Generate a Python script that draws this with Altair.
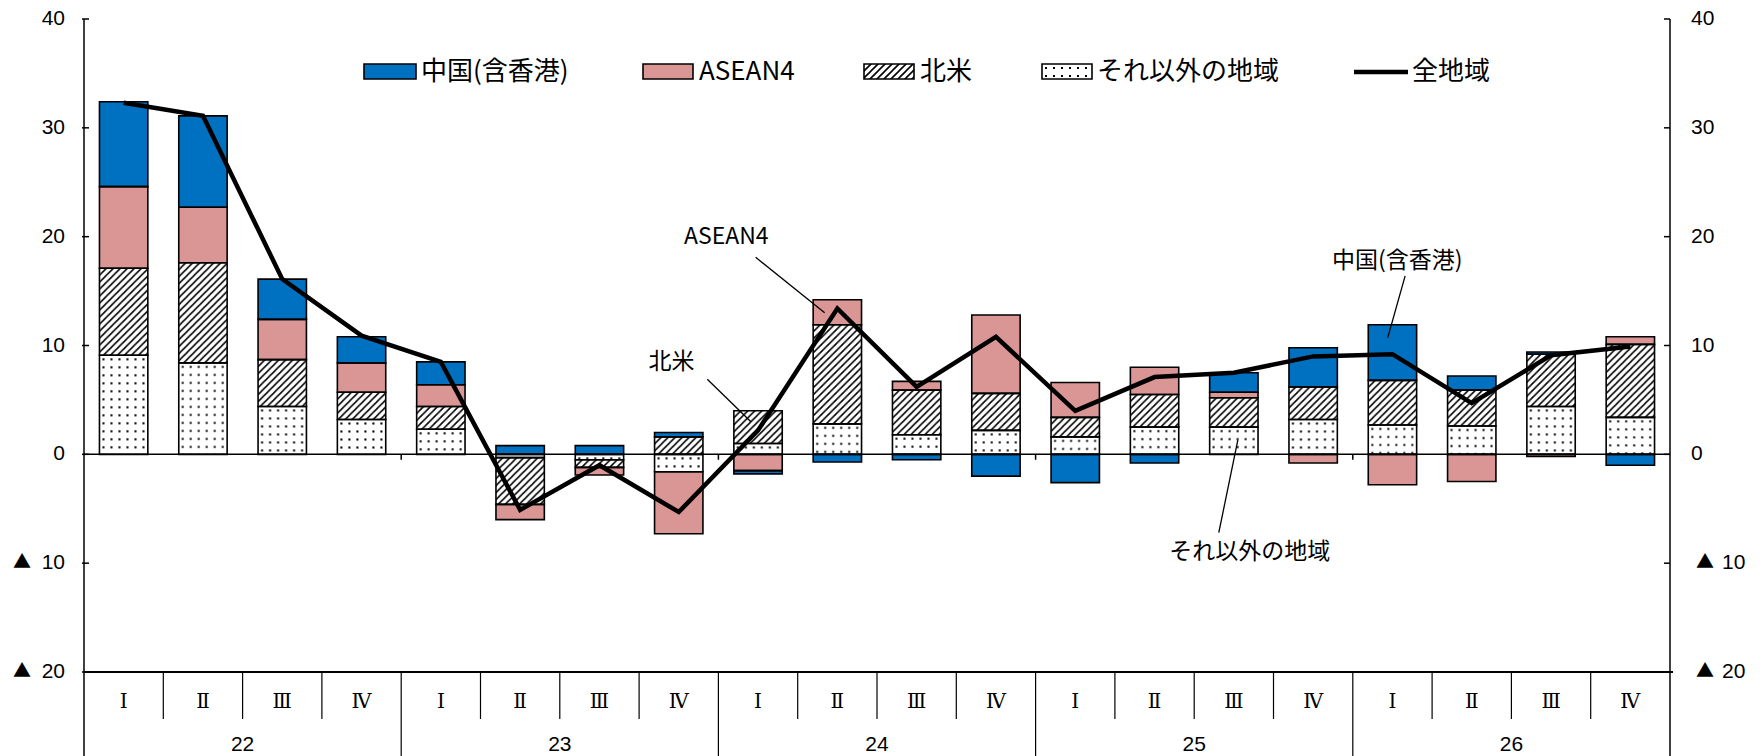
import base64
import altair as alt
import pandas as pd

# ---- data -------------------------------------------------------------
years = ["22", "23", "24", "25", "26"]
quarters = ["Ⅰ", "Ⅱ", "Ⅲ", "Ⅳ"]
series = ["それ以外の地域", "北米", "ASEAN4", "中国(含香港)"]

other = [9.1, 8.4, 4.4, 3.2, 2.3, -0.3, -0.5, -1.6, 1.0, 2.8, 1.8, 2.2, 1.6, 2.5, 2.5, 3.2, 2.7, 2.6, 4.4, 3.4]
north_america = [8.0, 9.2, 4.3, 2.5, 2.1, -4.3, -0.7, 1.6, 3.0, 9.1, 4.1, 3.4, 1.8, 3.0, 2.7, 3.0, 4.1, 3.3, 4.8, 6.7]
asean = [7.5, 5.1, 3.7, 2.7, 2.0, -1.4, -0.7, -5.7, -1.5, 2.3, 0.8, 7.2, 3.2, 2.5, 0.5, -0.8, -2.8, -2.5, -0.2, 0.7]
china = [7.8, 8.4, 3.7, 2.4, 2.1, 0.8, 0.8, 0.4, -0.3, -0.7, -0.5, -2.0, -2.6, -0.8, 1.8, 3.6, 5.1, 1.3, 0.2, -1.0]
total = [32.3, 31.1, 16.1, 10.9, 8.5, -5.1, -1.0, -5.3, 2.2, 13.4, 6.2, 10.8, 4.0, 7.1, 7.5, 9.0, 9.2, 4.7, 9.1, 9.9]

y_ticks = [-20, -10, 0, 10, 20, 30, 40]

# ---- layout / style ---------------------------------------------------
W, H = 1586, 653
HALF = 0.305            # half bar width in category units
JP = "Noto Sans CJK JP"
NUM = "Liberation Sans"
BLUE, PINK = "#0070C0", "#DA9694"

def svg_uri(body):
    svg = ("<svg xmlns='http://www.w3.org/2000/svg' width='100%' height='100%'>"
           + body + "</svg>")
    return "data:image/svg+xml;base64," + base64.b64encode(svg.encode()).decode()

HATCH = svg_uri(
    "<defs><pattern id='p' width='7' height='7' patternUnits='userSpaceOnUse'>"
    "<path d='M0,7 L7,0 M-1,1 L1,-1 M6,8 L8,6' stroke='black' stroke-width='1.6'/>"
    "</pattern></defs><rect width='100%' height='100%' fill='url(#p)'/>")
DOTS = svg_uri(
    "<defs><pattern id='d' width='8' height='8' patternUnits='userSpaceOnUse'>"
    "<rect x='3' y='3' width='2' height='2' fill='black'/>"
    "</pattern></defs><rect width='100%' height='100%' fill='url(#d)'/>")

# ---- tables -----------------------------------------------------------
n = len(total)
rows = []
for i in range(n):
    pos = neg = 0.0
    for name, vals in zip(series, [other, north_america, asean, china]):
        v = vals[i]
        if v >= 0:
            y0, y1 = pos, pos + v
            pos += v
        else:
            y0, y1 = neg, neg + v
            neg += v
        rows.append(dict(i=i, series=name, value=v, y0=y0, y1=y1,
                         x0=i - HALF, x1=i + HALF))
seg = pd.DataFrame(rows)

line_df = pd.DataFrame({"i": range(n), "total": total})
cats = pd.DataFrame({"i": range(n), "q": [quarters[k % 4] for k in range(n)]})
year_df = pd.DataFrame({"c": [4 * k + 1.5 for k in range(len(years))], "year": years})
qsep = pd.DataFrame({"b": [k + 0.5 for k in range(n - 1) if (k + 1) % 4]})
ysep = pd.DataFrame({"b": [k + 0.5 for k in range(n - 1) if (k + 1) % 4 == 0]})
ticks = pd.DataFrame({"v": y_ticks, "num": [str(abs(t)) for t in y_ticks],
                      "neg": [t < 0 for t in y_ticks]})
one = pd.DataFrame({"k": [0]})

notes = pd.DataFrame({
    "label": ["ASEAN4", "北米", "中国(含香港)", "それ以外の地域"],
    "x": [7.60, 6.91, 16.06, 14.20],
    "y": [20.0, 8.5, 17.8, -9.0],
})
leaders = pd.DataFrame({
    "x": [7.97, 7.36, 16.16, 13.81], "y": [18.1, 6.9, 16.4, -7.2],
    "x2": [8.84, 7.91, 15.94, 14.05], "y2": [13.0, 3.0, 10.7, 1.3],
})

xs = alt.Scale(domain=[-0.5, n - 0.5], nice=False, zero=False)
ys = alt.Scale(domain=[-20, 40], nice=False, zero=False)

def X(f):
    return alt.X(f, scale=xs, axis=None)

def Y(f):
    return alt.Y(f, scale=ys, axis=None)

# ---- bars -------------------------------------------------------------
bar_fill = alt.Chart(seg).mark_rect(strokeWidth=0).encode(
    x=X("x0:Q"), x2="x1:Q", y=Y("y0:Q"), y2="y1:Q",
    color=alt.Color("series:N", legend=None,
                    scale=alt.Scale(domain=series, range=["white", "white", PINK, BLUE])),
)
bar_hatch = alt.Chart(seg).transform_filter(alt.datum.series == "北米").mark_image(
    aspect=False).encode(x=X("x0:Q"), x2="x1:Q", y=Y("y1:Q"), y2="y0:Q", url=alt.value(HATCH))
bar_dots = alt.Chart(seg).transform_filter(alt.datum.series == "それ以外の地域").mark_image(
    aspect=False).encode(x=X("x0:Q"), x2="x1:Q", y=Y("y1:Q"), y2="y0:Q", url=alt.value(DOTS))
bar_edge = alt.Chart(seg).mark_rect(fillOpacity=0, stroke="black", strokeWidth=1.6).encode(
    x=X("x0:Q"), x2="x1:Q", y=Y("y0:Q"), y2="y1:Q")

# ---- frame, axes ------------------------------------------------------
zero = alt.Chart(one).mark_rule(color="black", strokeWidth=1.5).encode(
    x=alt.value(0), x2=alt.value(W), y=alt.YDatum(0, scale=ys, axis=None))
zero_ticks = alt.Chart(ysep).mark_rule(color="black", strokeWidth=1.5).encode(
    x=X("b:Q"), y=alt.YDatum(0, scale=ys, axis=None), y2=alt.Y2Datum(-0.5))
bottom = alt.Chart(one).mark_rule(color="black", strokeWidth=2).encode(
    x=alt.value(0), x2=alt.value(W + 3), y=alt.value(H))
left_axis = alt.Chart(one).mark_rule(color="black", strokeWidth=1.5).encode(
    x=alt.value(0), y=alt.value(0), y2=alt.value(H + 84))
right_axis = alt.Chart(one).mark_rule(color="black", strokeWidth=1.5).encode(
    x=alt.value(W), y=alt.value(0), y2=alt.value(H + 84))
left_ticks = alt.Chart(ticks).mark_rule(color="black", strokeWidth=1.5).encode(
    x=alt.value(-2), x2=alt.value(5), y=Y("v:Q"))
right_ticks = alt.Chart(ticks).mark_rule(color="black", strokeWidth=1.5).encode(
    x=alt.value(W - 6), x2=alt.value(W), y=Y("v:Q"))

def num_labels(x, align, neg):
    return alt.Chart(ticks).transform_filter(
        alt.datum.neg if neg else ~alt.datum.neg).mark_text(
        align=align, baseline="middle", font=NUM, fontSize=21, color="black").encode(
        x=alt.value(x), y=Y("v:Q"), text="num:N")

def tri_labels(x):
    return alt.Chart(ticks).transform_filter(alt.datum.neg).mark_text(
        text="▲", align="center", baseline="middle", font=JP, fontSize=18, color="black").encode(
        x=alt.value(x), y=Y("v:Q"))

axis_labels = [
    num_labels(-19, "right", False), num_labels(-19, "right", True), tri_labels(-62),
    num_labels(W + 21, "left", False), num_labels(W + 52, "left", True), tri_labels(W + 35),
]

# category table under the plot
q_sep = alt.Chart(qsep).mark_rule(color="black", strokeWidth=1.2).encode(
    x=X("b:Q"), y=alt.value(H), y2=alt.value(H + 47))
y_sep = alt.Chart(ysep).mark_rule(color="black", strokeWidth=1.2).encode(
    x=X("b:Q"), y=alt.value(H), y2=alt.value(H + 84))
q_text = alt.Chart(cats).mark_text(
    baseline="middle", font="Liberation Serif, DejaVu Serif", fontSize=20, color="black").encode(
    x=X("i:Q"), y=alt.value(H + 30), text="q:N")
y_text = alt.Chart(year_df).mark_text(
    baseline="middle", font=NUM, fontSize=21, color="black").encode(
    x=X("c:Q"), y=alt.value(H + 73), text="year:N")

# ---- total line and callouts -----------------------------------------
total_line = alt.Chart(line_df).mark_line(color="black", strokeWidth=4.5).encode(
    x=X("i:Q"), y=Y("total:Q"))
leader = alt.Chart(leaders).mark_rule(color="black", strokeWidth=1.3).encode(
    x=X("x:Q"), y=Y("y:Q"), x2="x2:Q", y2="y2:Q")
note_text = alt.Chart(notes).mark_text(
    baseline="middle", font=JP, fontSize=23, color="black").encode(
    x=X("x:Q"), y=Y("y:Q"), text="label:N")

# ---- legend -----------------------------------------------------------
LY0, LY1, LYC = 45, 60, 53

def box(x0, x1, fill="white", url=None):
    parts = [alt.Chart(one).mark_rect(fill=fill, strokeWidth=0).encode(
        x=alt.value(x0), x2=alt.value(x1), y=alt.value(LY0), y2=alt.value(LY1))]
    if url:
        parts.append(alt.Chart(one).mark_image(aspect=False).encode(
            x=alt.value(x0), x2=alt.value(x1), y=alt.value(LY0), y2=alt.value(LY1),
            url=alt.value(url)))
    parts.append(alt.Chart(one).mark_rect(fillOpacity=0, stroke="black", strokeWidth=1.6).encode(
        x=alt.value(x0), x2=alt.value(x1), y=alt.value(LY0), y2=alt.value(LY1)))
    return parts

def label(x, txt):
    return alt.Chart(one).mark_text(
        text=txt, align="left", baseline="middle", font=JP, fontSize=26, color="black").encode(
        x=alt.value(x), y=alt.value(LYC))

legend = (
    box(280, 332, BLUE) + [label(337, "中国(含香港)")]
    + box(559, 609, PINK) + [label(615, "ASEAN4")]
    + box(780, 830, url=HATCH) + [label(836, "北米")]
    + box(958, 1008, url=DOTS) + [label(1013, "それ以外の地域")]
    + [alt.Chart(one).mark_rule(color="black", strokeWidth=4.5).encode(
        x=alt.value(1270), x2=alt.value(1324), y=alt.value(LYC)),
       label(1328, "全地域")]
)

chart = alt.layer(
    bar_fill, bar_hatch, bar_dots, bar_edge,
    zero, zero_ticks, bottom, left_axis, right_axis, left_ticks, right_ticks,
    *axis_labels, q_sep, y_sep, q_text, y_text,
    total_line, leader, note_text, *legend,
).properties(
    width=W, height=H,
    autosize=alt.AutoSizeParams(type="none"),
    padding={"left": 84, "top": 19, "right": 91, "bottom": 84},
).configure_view(stroke=None)

chart.save("out.html", embed_options={"renderer": "svg", "actions": False})
